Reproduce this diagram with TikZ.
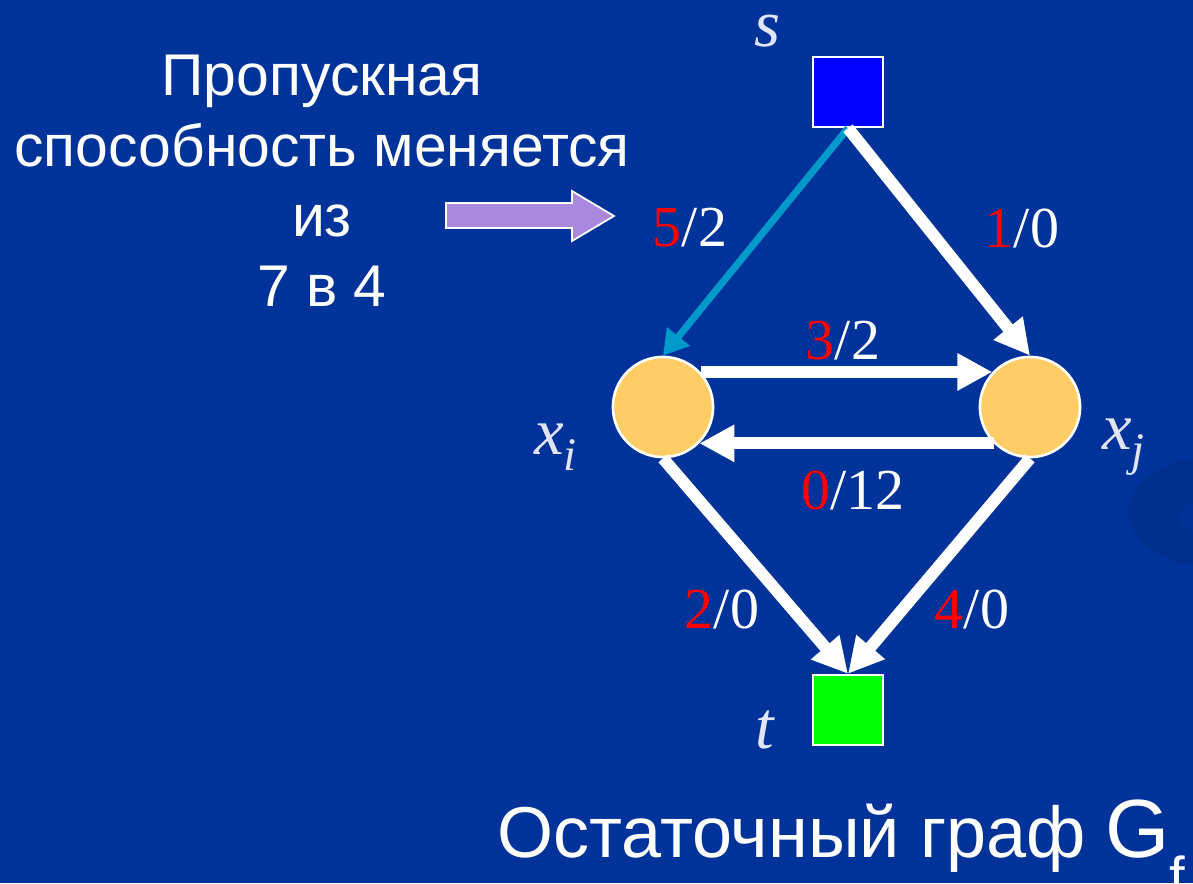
\documentclass[tikz,border=0pt]{standalone}
\usepackage{fontspec}
\setmainfont{Liberation Sans}
\newfontfamily\tms{Liberation Serif}
\usetikzlibrary{arrows.meta}

\definecolor{slide}{RGB}{0,51,153}
\definecolor{swirl}{RGB}{0,47,143}
\definecolor{nodeyellow}{RGB}{255,204,102}
\definecolor{edgeteal}{RGB}{0,153,204}
\definecolor{lilac}{RGB}{170,136,221}
\definecolor{palewhite}{RGB}{225,228,245}

\newcommand\flow[2]{\textcolor{red}{#1}/#2}

\tikzset{
  term/.style={draw=white,line width=1.2pt,minimum size=40pt,inner sep=0pt},
  vert/.style={circle,draw=white,line width=1.5pt,fill=nodeyellow,minimum size=57pt,inner sep=0pt},
  flowedge/.style={white,line width=6.8pt,-{Triangle[length=20pt,width=20pt]}},
  lbl/.style={text=white,font=\tms\fontsize{33}{33}\selectfont,inner sep=0pt},
  vname/.style={text=palewhite,font=\tms\itshape\fontsize{38}{38}\selectfont,inner sep=0pt}
}

\begin{document}
\begin{tikzpicture}[x=0.02cm,y=-0.02cm]
\useasboundingbox (0,0) rectangle (1193,883);
\fill[slide] (0,0) rectangle (1193,883);
\fill[swirl] (1240,512) ellipse [x radius=112,y radius=60];
\fill[slide!60!swirl] (1234,518) ellipse [x radius=56,y radius=22];

% graph
\node[term,fill=blue] (s) at (848,92) {};
\node[term,fill=green] (t) at (848,710) {};
\node[vert] (xi) at (663,407) {};
\node[vert] (xj) at (1030,407) {};

\draw[edgeteal,line width=4pt,-{Triangle[length=14pt,width=16pt]}] (s.south) -- (xi.north);
\draw[flowedge] (s.south) -- (xj.north);
\draw[flowedge] (xi.43) -- (xj.137);
\draw[flowedge] (xj.-135) -- (xi.-45);
\draw[flowedge] (xi.south) -- (t.north);
\draw[flowedge] (xj.south) -- (t.north);

\node[lbl] (f1) at (690,228) {\flow{5}{2}};
\node[lbl] (f2) at (1022,228) {\flow{1}{0}};
\node[lbl] (f3) at (843,341) {\flow{3}{2}};
\node[lbl] (f4) at (853,490) {\flow{0}{12}};
\node[lbl] (f5) at (722,609) {\flow{2}{0}};
\node[lbl] (f6) at (972,609) {\flow{4}{0}};

\node[vname,anchor=base] (ls) at (767,46) {s};
\node[vname] (lt) at (765,730) {t};
\node[vname] (lxi) at (556,447) {x\textsubscript{i}};
\node[vname] (lxj) at (1124,447) {x\textsubscript{j}};

% note on the left
\node[text=white,align=center,font=\fontsize{33.5}{40}\selectfont] (note) at (322,181)
  {Пропускная\\способность меняется\\из\\7 в 4};
\draw[white,line width=1pt,fill=lilac] (446,203) -- (572,203) -- (572,191) -- (614,216)
  -- (572,241) -- (572,228) -- (446,228) -- cycle;

\node[text=white,anchor=base west,inner sep=0pt,font=\fontsize{41}{41}\selectfont] (cap) at (497,857)
  {Остаточный граф {\fontsize{47}{47}\selectfont G}\raisebox{-0.55em}{\fontsize{32}{32}\selectfont f}};
\end{tikzpicture}
\end{document}
